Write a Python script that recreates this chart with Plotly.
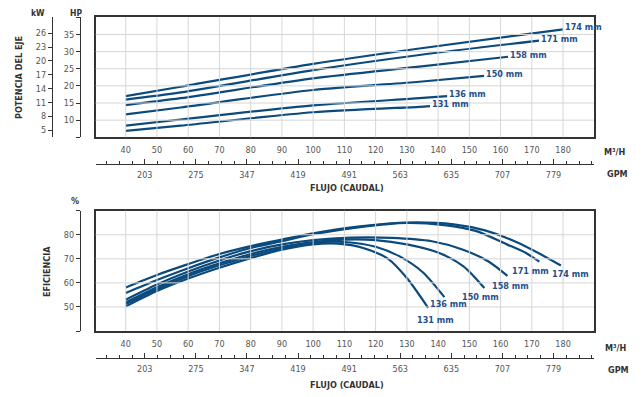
import plotly.graph_objects as go

# ---------------- data ----------------
flow_ticks = [40, 50, 60, 70, 80, 90, 100, 110, 120, 130, 140, 150, 160, 170, 180]
gpm_ticks = [203, 275, 347, 419, 491, 563, 635, 707, 779]
hp_ticks = [5, 10, 15, 20, 25, 30, 35, 40]
hp_text = ["", "10", "15", "20", "25", "30", "35", ""]
kw_ticks = [5, 8, 11, 14, 17, 20, 23, 26]
eff_ticks = [40, 50, 60, 70, 80, 90]
eff_text = ["", "50", "60", "70", "80", ""]

impellers = ["174 mm", "171 mm", "158 mm", "150 mm", "136 mm", "131 mm"]

# shaft power (HP) vs flow (m3/h)
pow_q_174 = [40, 57.6, 100, 134, 180]
pow_hp_174 = [17.0, 19.75, 26.4, 30.9, 36.5]
pow_q_171 = [40, 57.6, 100, 134, 172.3]
pow_hp_171 = [16.0, 18.1, 24.6, 29.0, 33.2]
pow_q_158 = [40, 57.6, 100, 134, 162.4]
pow_hp_158 = [14.4, 16.4, 22.2, 25.6, 28.5]
pow_q_150 = [40, 57.6, 100, 134, 154.7]
pow_hp_150 = [11.7, 13.7, 18.8, 21.2, 22.9]
pow_q_136 = [40, 57.6, 100, 134, 142.9]
pow_hp_136 = [8.4, 10.2, 14.3, 16.4, 17.0]
pow_q_131 = [40, 57.6, 100, 134, 137.4]
pow_hp_131 = [6.9, 8.4, 12.3, 13.9, 14.1]

# efficiency (%) vs flow (m3/h)
eff_q_174 = [40, 50, 60, 70, 80, 90, 100, 115, 131, 145, 155, 165, 172.4, 179.3]
eff_v_174 = [58.1, 63.3, 67.8, 72.0, 75.3, 78.0, 80.6, 83.5, 85.1, 84.3, 81.8, 77.0, 72.2, 67.2]
eff_q_171 = [40, 50, 60, 70, 80, 90, 100, 115, 130, 142, 152, 162, 168, 172.4]
eff_v_171 = [55.8, 61.2, 66.1, 70.6, 74.5, 77.3, 80.2, 83.2, 84.9, 84.0, 81.6, 76.0, 72.5, 68.8]
eff_q_158 = [40, 50, 60, 70, 80, 90, 100, 112, 125, 138, 148, 156, 162.2]
eff_v_158 = [53.0, 59.3, 64.7, 69.3, 73.2, 76.0, 77.8, 78.8, 78.7, 77.3, 73.8, 69.0, 62.9]
eff_q_150 = [40, 50, 60, 70, 80, 90, 100, 110, 120, 130, 140, 148, 154.8]
eff_v_150 = [51.9, 58.2, 63.6, 68.1, 72.0, 75.0, 77.0, 78.0, 77.8, 76.0, 72.6, 67.0, 57.9]
eff_q_136 = [40, 50, 60, 70, 80, 90, 100, 110, 120, 128, 135, 142]
eff_v_136 = [51.2, 57.4, 62.8, 67.3, 71.2, 74.5, 76.6, 77.0, 75.0, 70.8, 64.5, 54.1]
eff_q_131 = [40, 50, 60, 70, 80, 90, 100, 108, 116, 124, 130, 136.8]
eff_v_131 = [50.2, 56.6, 61.8, 66.3, 70.3, 73.8, 76.0, 76.3, 74.5, 70.0, 62.0, 49.6]

GPM_PER_M3H = 4.4029
KW_PER_HP = 0.735

# ---------------- style ----------------
PAGE_OFF = 8              # default page margin of the browser
W, H = 643 - PAGE_OFF, 397 - PAGE_OFF
LINE = "#0b4a7c"
LABEL = "#1f4f8c"
AX = "#333333"
TICK = "#555555"
GRID = "#d6d6d6"
COND = "Liberation Sans Narrow, DejaVu Sans Condensed, Roboto Condensed, Arial Narrow, sans-serif"

def px_x(p):
    return (p - PAGE_OFF) / W

def px_y(p):
    return 1 - (p - PAGE_OFF) / H

xdom = [px_x(95.7), px_x(594)]
top_dom = [px_y(137.3), px_y(17.3)]
bot_dom = [px_y(331), px_y(210.7)]
x_range = [30.4, 189.9]
hp_range = [5, 40]
eff_range = [40, 90]

power_series = [
    (pow_q_174, pow_hp_174), (pow_q_171, pow_hp_171), (pow_q_158, pow_hp_158),
    (pow_q_150, pow_hp_150), (pow_q_136, pow_hp_136), (pow_q_131, pow_hp_131),
]
eff_series = [
    (eff_q_174, eff_v_174), (eff_q_171, eff_v_171), (eff_q_158, eff_v_158),
    (eff_q_150, eff_v_150), (eff_q_136, eff_v_136), (eff_q_131, eff_v_131),
]
bot_label_shift = [(10, -8), (-9, -9), (3, -10), (-4, -9), (4, -7), (7, -12)]

fig = go.Figure()
annotations = []
label_font = dict(family=COND, size=9, color=LABEL, weight="bold")

for name, (q, v) in zip(impellers, power_series):
    fig.add_trace(go.Scatter(x=q, y=v, mode="lines", line=dict(color=LINE, width=2.2, shape="spline", smoothing=0.8),
                             xaxis="x", yaxis="y", name=name, showlegend=False, hoverinfo="skip"))
    annotations.append(dict(x=q[-1], y=v[-1], xref="x", yref="y", text=name, showarrow=False,
                            xanchor="left", yanchor="middle", xshift=0, yshift=2, font=label_font))

for name, (q, v), (dx, dy) in zip(impellers, eff_series, bot_label_shift):
    fig.add_trace(go.Scatter(x=q, y=v, mode="lines", line=dict(color=LINE, width=2.2, shape="spline", smoothing=0.8),
                             xaxis="x2", yaxis="y2", name=name, showlegend=False, hoverinfo="skip"))
    annotations.append(dict(x=q[-1], y=v[-1], xref="x2", yref="y2", text=name, showarrow=False,
                            xanchor="center", yanchor="middle", xshift=dx, yshift=dy, font=label_font))

# empty traces so that the secondary (overlay) axes are drawn
for xa, ya in [("x3", "y3"), ("x3", "y4"), ("x4", "y5")]:
    fig.add_trace(go.Scatter(x=[], y=[], xaxis=xa, yaxis=ya, showlegend=False, hoverinfo="skip"))

# grid lines at the tick values of the main axes
grid_line = dict(color=GRID, width=1)
shapes = []
for xref, ydom in [("x", "y domain"), ("x2", "y2 domain")]:
    for t in flow_ticks:
        shapes.append(dict(type="line", xref=xref, yref=ydom, x0=t, x1=t, y0=0, y1=1, line=grid_line, layer="above"))
for t in hp_ticks[1:-1]:
    shapes.append(dict(type="line", xref="x domain", yref="y", x0=0, x1=1, y0=t, y1=t, line=grid_line, layer="above"))
for t in eff_ticks[1:-1]:
    shapes.append(dict(type="line", xref="x2 domain", yref="y2", x0=0, x1=1, y0=t, y1=t, line=grid_line, layer="above"))

tickfont = dict(family=COND, size=9, color=TICK)
main_x = dict(range=x_range, domain=xdom, tickvals=flow_ticks, ticks="", showline=True, mirror=True,
              linecolor=AX, linewidth=1.5, showgrid=False, zeroline=False,
              tickfont=tickfont, ticklabelstandoff=3)
gpm_x = dict(range=[x_range[0] * GPM_PER_M3H, x_range[1] * GPM_PER_M3H], tickvals=gpm_ticks,
             ticks="inside", ticklen=5, tickcolor=AX, tickwidth=1, showline=True, linecolor=AX, linewidth=1.2,
             showgrid=False, zeroline=False, anchor="free", side="bottom",
             minor=dict(ticks="inside", ticklen=3, tick0=149, dtick=18, tickcolor=AX, showgrid=False),
             tickfont=tickfont, ticklabelstandoff=2)
free_y = dict(anchor="free", side="left", ticks="outside", ticklen=4, tickcolor=AX, showline=True,
              linecolor=AX, linewidth=1.2, showgrid=False, zeroline=False, tickfont=tickfont)

fig.update_layout(
    width=W, height=H, margin=dict(l=0, r=0, t=0, b=0),
    paper_bgcolor="white", plot_bgcolor="rgba(0,0,0,0)", showlegend=False,
    xaxis=dict(main_x, anchor="y"),
    xaxis2=dict(main_x, anchor="y2"),
    xaxis3=dict(gpm_x, overlaying="x", position=px_y(164)),
    xaxis4=dict(gpm_x, overlaying="x2", position=px_y(358.3)),
    yaxis=dict(range=hp_range, domain=top_dom, anchor="x", showticklabels=False, ticks="",
               showline=True, mirror=True, linecolor=AX, linewidth=1.5, showgrid=False, zeroline=False),
    yaxis2=dict(range=eff_range, domain=bot_dom, anchor="x2", showticklabels=False, ticks="",
                showline=True, mirror=True, linecolor=AX, linewidth=1.5, showgrid=False, zeroline=False),
    yaxis3=dict(free_y, range=hp_range, overlaying="y", position=px_x(80), tickvals=hp_ticks, ticktext=hp_text),
    yaxis4=dict(free_y, range=[hp_range[0] * KW_PER_HP - 0.24, hp_range[1] * KW_PER_HP + 0.05], overlaying="y",
                position=px_x(52), tickvals=kw_ticks),
    yaxis5=dict(free_y, range=eff_range, overlaying="y2", position=px_x(80), tickvals=eff_ticks, ticktext=eff_text),
    shapes=shapes,
)

def title(text, x, y, size=10, angle=0):
    annotations.append(dict(text=text, x=px_x(x), y=px_y(y), xref="paper", yref="paper", showarrow=False,
                            xanchor="center", yanchor="middle", textangle=angle,
                            font=dict(family=COND, size=size, color=AX, weight="bold")))

title("kW", 38, 13, 8.5)
title("HP", 76, 13, 8.5)
title("POTENCIA DEL EJE", 19, 78, 9, -90)
title("%", 75, 201, 9)
title("EFICIENCIA", 47, 272, 9, -90)
title("FLUJO (CAUDAL)", 347, 188, 9)
title("FLUJO (CAUDAL)", 347, 385, 9)
title("M³/H", 615, 152, 9)
title("GPM", 617, 174, 9)
title("M³/H", 616, 347.5, 9)
title("GPM", 618, 370, 9)

fig.update_layout(annotations=annotations)
fig.write_html("out.html")
